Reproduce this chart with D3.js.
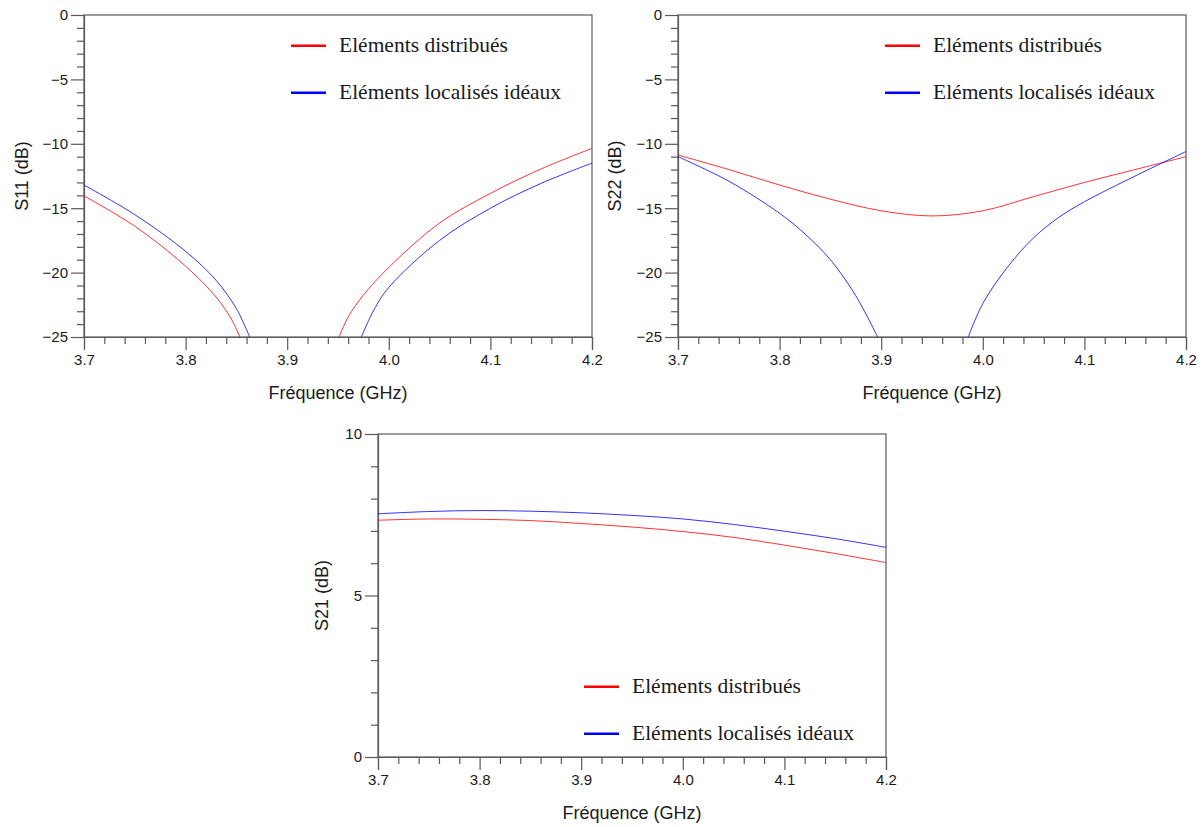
<!DOCTYPE html>
<html>
<head>
<meta charset="utf-8">
<script src="https://cdn.jsdelivr.net/npm/d3@7"></script>
<style>
  html, body { margin: 0; padding: 0; background: #fff; }
  svg { display: block; }
</style>
</head>
<body>
<svg id="chart" width="1202" height="827"></svg>
<script>
// ---------- DATA ----------
const xTicksMajor = [3.7, 3.8, 3.9, 4.0, 4.1, 4.2];
const xTickLabels = ["3.7", "3.8", "3.9", "4.0", "4.1", "4.2"];
const seriesNames = ["Eléments distribués", "Eléments localisés idéaux"];

// S11 (dB) — curves leave the plot below -25 dB (null = off-chart gap)
const s11DistFreq = [3.70, 3.75, 3.80, 3.83, 3.845, 3.8535, 3.90, 3.951, 3.96, 3.975, 4.00, 4.05, 4.10, 4.15, 4.20];
const s11DistVal  = [-14.05, -16.4, -19.5, -21.9, -23.6, -25, null, -25, -23.45, -21.75, -19.6, -16.15, -13.85, -11.95, -10.35];
const s11LumpFreq = [3.70, 3.75, 3.80, 3.83, 3.85, 3.863, 3.92, 3.973, 3.985, 4.00, 4.05, 4.10, 4.15, 4.20];
const s11LumpVal  = [-13.2, -15.5, -18.35, -20.6, -22.8, -25, null, -25, -22.95, -21.15, -17.5, -15.0, -13.07, -11.5];

// S22 (dB)
const s22DistFreq = [3.70, 3.75, 3.80, 3.85, 3.90, 3.95, 4.00, 4.05, 4.10, 4.15, 4.20];
const s22DistVal  = [-10.87, -12.0, -13.2, -14.3, -15.2, -15.6, -15.2, -14.1, -13.0, -12.0, -11.0];
const s22LumpFreq = [3.70, 3.75, 3.80, 3.825, 3.85, 3.875, 3.8965, 3.94, 3.9857, 4.00, 4.025, 4.05, 4.075, 4.10, 4.15, 4.20];
const s22LumpVal  = [-11.0, -12.9, -15.4, -17.0, -19.0, -21.8, -25, null, -25, -22.4, -19.5, -17.3, -15.7, -14.5, -12.5, -10.6];

// S21 (dB)
const s21Freq    = [3.70, 3.75, 3.80, 3.85, 3.90, 3.95, 4.00, 4.05, 4.10, 4.15, 4.20];
const s21DistVal = [7.33, 7.37, 7.36, 7.32, 7.23, 7.12, 6.98, 6.80, 6.56, 6.30, 6.02];
const s21LumpVal = [7.53, 7.60, 7.63, 7.61, 7.56, 7.48, 7.37, 7.20, 6.99, 6.76, 6.49];

// ---------- DRAWING ----------
const svg = d3.select("#chart");
const seriesColors = ["#ff0000", "#0000ff"];
const axisColor = "#5a5a5a";
const textColor = "#1a1a1a";

function zip(f, v) { return f.map((d, i) => ({ f: d, v: v[i] })); }

function panel(cfg) {
  const g = svg.append("g");
  const x = d3.scaleLinear().domain([3.7, 4.2]).range([cfg.left, cfg.right]);
  const y = d3.scaleLinear().domain(cfg.yDomain).range([cfg.bottom, cfg.top]);

  const clipId = "clip" + cfg.id;
  g.append("clipPath").attr("id", clipId)
    .append("rect").attr("x", cfg.left).attr("y", cfg.top)
    .attr("width", cfg.right - cfg.left).attr("height", cfg.bottom - cfg.top);

  // frame
  g.append("rect")
    .attr("x", cfg.left).attr("y", cfg.top)
    .attr("width", cfg.right - cfg.left).attr("height", cfg.bottom - cfg.top)
    .attr("fill", "none").attr("stroke", axisColor).attr("stroke-width", 1.2);

  const xMinor = d3.range(3.7, 4.2001, 0.02).map(d => +d.toFixed(2)).filter(d => !xTicksMajor.some(m => Math.abs(m - d) < 1e-6));
  const yMinor = d3.range(cfg.yDomain[0], cfg.yDomain[1] + 0.001, 1).filter(d => !cfg.yMajor.includes(d));

  // x axis
  g.append("g").attr("transform", `translate(0,${cfg.bottom})`)
    .call(d3.axisBottom(x).tickValues(xTicksMajor).tickSize(13).tickPadding(4)
      .tickFormat((d, i) => xTickLabels[i]));
  g.append("g").attr("transform", `translate(0,${cfg.bottom})`)
    .call(d3.axisBottom(x).tickValues(xMinor).tickSize(7).tickFormat(""))
    .call(s => s.select(".domain").remove());
  // y axis
  g.append("g").attr("transform", `translate(${cfg.left},0)`)
    .call(d3.axisLeft(y).tickValues(cfg.yMajor).tickSize(13).tickPadding(3));
  g.append("g").attr("transform", `translate(${cfg.left},0)`)
    .call(d3.axisLeft(y).tickValues(yMinor).tickSize(7).tickFormat(""))
    .call(s => s.select(".domain").remove());

  g.selectAll(".domain").attr("stroke", axisColor).attr("stroke-width", 1.2);
  g.selectAll(".tick line").attr("stroke", axisColor).attr("stroke-width", 1.2);
  g.selectAll(".tick text").attr("fill", textColor)
    .style("font-family", "'Liberation Sans', Arial, sans-serif").style("font-size", "15px");

  // titles
  g.append("text")
    .attr("x", (cfg.left + cfg.right) / 2).attr("y", cfg.bottom + 62)
    .attr("text-anchor", "middle").attr("fill", textColor)
    .style("font-family", "'Liberation Sans', Arial, sans-serif").style("font-size", "18px")
    .text("Fréquence (GHz)");
  g.append("text")
    .attr("transform", `translate(${cfg.left - cfg.yTitleOff},${(cfg.top + cfg.bottom) / 2}) rotate(-90)`)
    .attr("text-anchor", "middle").attr("dominant-baseline", "central").attr("fill", textColor)
    .style("font-family", "'Liberation Sans', Arial, sans-serif").style("font-size", "18px")
    .text(cfg.yTitle);

  // curves
  const line = d3.line().defined(d => d.v !== null).x(d => x(d.f)).y(d => y(d.v)).curve(d3.curveCatmullRom.alpha(0.5));
  const plot = g.append("g").attr("clip-path", `url(#${clipId})`);
  cfg.series.forEach((s, i) => {
    plot.append("path").datum(s)
      .attr("d", line).attr("fill", "none")
      .attr("stroke", seriesColors[i]).attr("stroke-width", 1).attr("stroke-opacity", 0.8);
  });

  // legend
  seriesNames.forEach((name, i) => {
    const ly = cfg.legendY + i * 47;
    g.append("line")
      .attr("x1", cfg.legendX).attr("x2", cfg.legendX + 35)
      .attr("y1", ly).attr("y2", ly)
      .attr("stroke", seriesColors[i]).attr("stroke-width", 2.5);
    g.append("text")
      .attr("x", cfg.legendX + 48).attr("y", ly + 6.5)
      .attr("fill", textColor)
      .style("font-family", "'Liberation Serif', 'Times New Roman', serif").style("font-size", "21.5px")
      .text(name);
  });
}

panel({
  id: 1, left: 84, right: 592, top: 15, bottom: 337,
  yDomain: [-25, 0], yMajor: [-25, -20, -15, -10, -5, 0],
  yTitle: "S11 (dB)", yTitleOff: 62,
  series: [zip(s11DistFreq, s11DistVal), zip(s11LumpFreq, s11LumpVal)],
  legendX: 291, legendY: 45.7
});
panel({
  id: 2, left: 678, right: 1186, top: 15, bottom: 337,
  yDomain: [-25, 0], yMajor: [-25, -20, -15, -10, -5, 0],
  yTitle: "S22 (dB)", yTitleOff: 63,
  series: [zip(s22DistFreq, s22DistVal), zip(s22LumpFreq, s22LumpVal)],
  legendX: 885, legendY: 45.7
});
panel({
  id: 3, left: 378, right: 886, top: 434, bottom: 757,
  yDomain: [0, 10], yMajor: [0, 5, 10],
  yTitle: "S21 (dB)", yTitleOff: 56,
  series: [zip(s21Freq, s21DistVal), zip(s21Freq, s21LumpVal)],
  legendX: 584, legendY: 686.7
});
</script>
</body>
</html>
